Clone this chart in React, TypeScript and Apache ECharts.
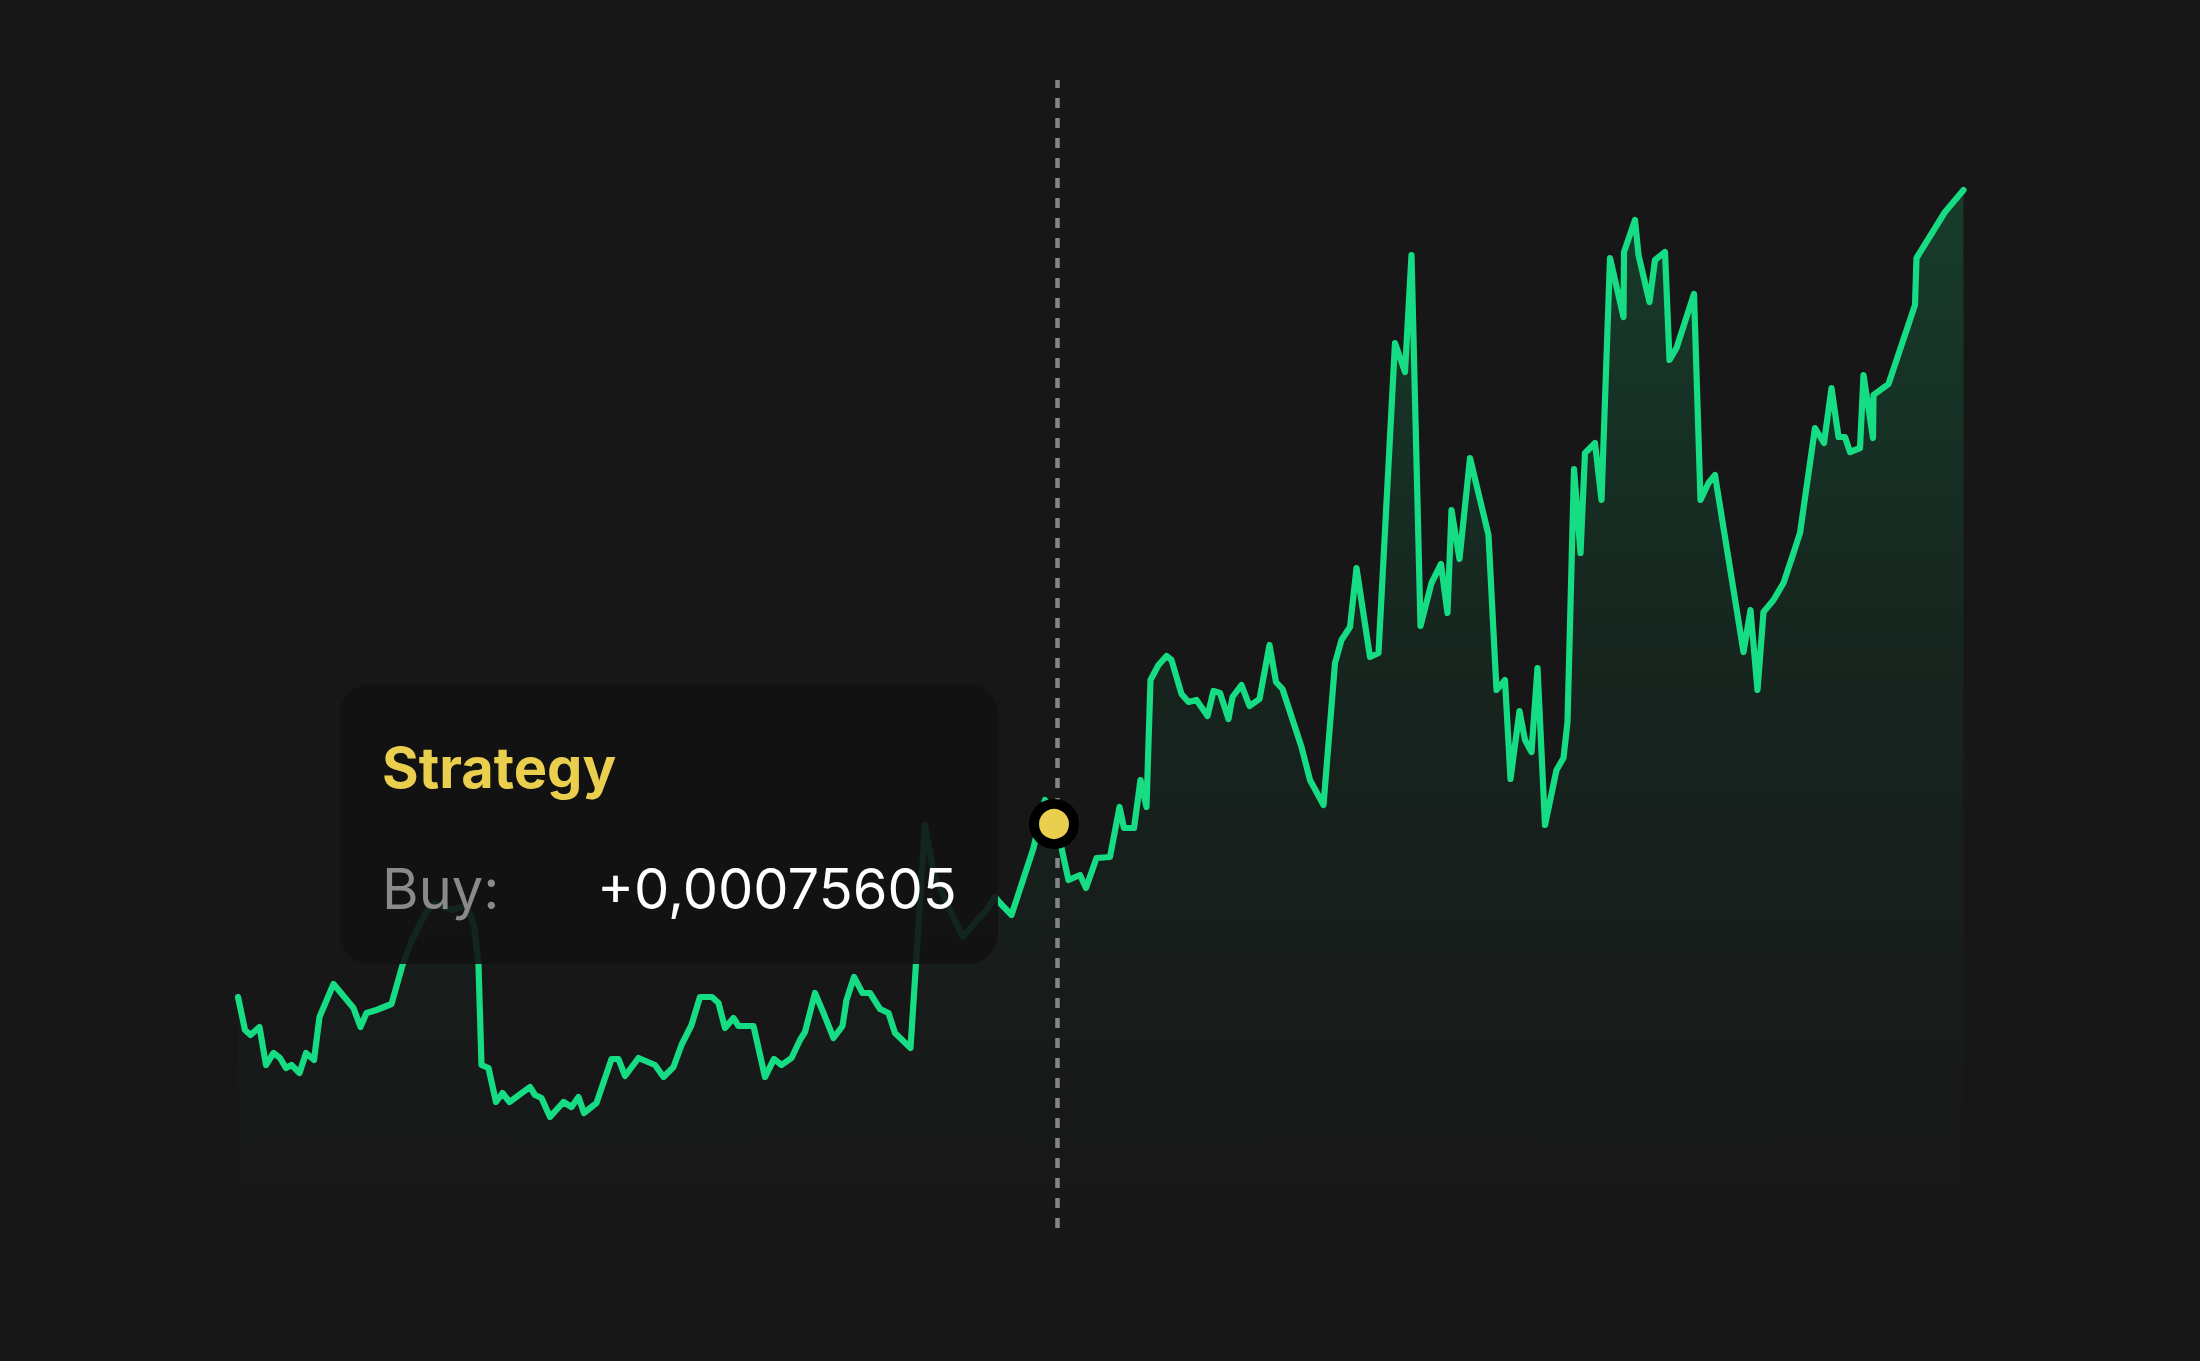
import React, { useEffect, useRef } from "react";
import * as echarts from "echarts";

// time steps (x) and cumulative profit values (y)
const timeSteps = [
  0, 1.4, 2.5, 4.3, 5.6, 7.1, 8.4, 9.6, 10.7, 12.3, 13.6, 15.2, 16.3, 19.1, 23.1, 24.5, 25.7, 27.7, 30.7, 32.9,
  34.8, 37.6, 39.2, 42.8, 45.6, 47.2, 48.1, 48.7, 50.1, 51.6, 52.9, 54.3, 58.4, 59.4, 60.7, 62.4, 65.1, 66.7, 68.1, 69.2,
  71.7, 74.7, 76.1, 77.4, 80.1, 83.4, 85.1, 87.1, 88.7, 90.7, 92.4, 94.8, 96.1, 97.4, 99.1, 100.1, 103.1, 105.4, 107.2, 108.7,
  110.7, 112.4, 113.4, 115.4, 117.1, 119.1, 120.9, 121.7, 123.2, 124.9, 126.4, 128.4, 130.1, 131.4, 134.5, 137.4, 139.1, 142.4, 145.0, 147.0,
  149.7, 151.4, 152.4, 154.7, 159.1, 159.6, 161.4, 164.7, 166.1, 168.4, 169.6, 171.7, 174.4, 176.3, 177.2, 179.2, 180.5, 181.7, 182.5, 184.1,
  185.7, 186.7, 188.7, 190.1, 191.7, 193.9, 195.1, 196.4, 198.1, 198.9, 200.7, 202.3, 204.3, 206.3, 207.6, 208.9, 212.7, 214.4, 217.1, 219.4,
  220.7, 222.4, 223.7, 226.4, 228.1, 231.4, 233.4, 234.7, 236.5, 238.7, 240.6, 241.9, 242.7, 244.3, 246.4, 250.1, 251.7, 253.4, 254.5, 256.3,
  257.4, 258.7, 259.9, 261.4, 263.7, 265.1, 265.9, 267.2, 268.5, 269.4, 271.4, 272.7, 274.4, 277.1, 277.2, 279.4, 280.1, 282.3, 283.4, 285.4,
  286.3, 287.7, 291.2, 292.5, 294.1, 295.4, 301.1, 302.5, 303.9, 305.1, 307.1, 309.1, 311.1, 312.4, 315.4, 317.2, 318.7, 320.1, 321.4, 322.4,
  324.4, 325.1, 327.0, 327.1, 330.1, 335.4, 335.7, 341.4, 345.1,
];

const profit = [
  23.1, 19.8, 19.3, 20.1, 16.3, 17.5, 17.0, 16.0, 16.3, 15.5, 17.5, 16.8, 21.1, 24.4, 22.0, 20.1, 21.5, 21.8, 22.4, 26.3,
  28.8, 31.6, 32.4, 31.8, 32.2, 30.3, 26.3, 16.3, 16.0, 12.6, 13.5, 12.6, 14.1, 13.3, 13.0, 11.1, 12.6, 12.1, 13.1, 11.5,
  12.5, 16.9, 16.9, 15.2, 17.0, 16.3, 15.1, 16.1, 18.3, 20.3, 23.1, 23.1, 22.5, 20.0, 21.0, 20.2, 20.2, 15.1, 16.9, 16.3,
  17.0, 18.8, 19.6, 23.5, 21.5, 19.0, 20.2, 22.8, 25.1, 23.5, 23.5, 21.9, 21.5, 19.5, 18.0, 40.3, 35.5, 31.8, 29.1, 30.3,
  31.8, 33.1, 32.5, 31.3, 38.0, 39.1, 42.8, 38.0, 34.8, 35.3, 34.0, 37.0, 37.1, 42.1, 40.0, 40.0, 44.8, 42.1, 54.8, 56.3,
  57.2, 56.8, 53.4, 52.6, 52.8, 51.2, 53.7, 53.5, 50.9, 53.1, 54.3, 52.2, 52.9, 58.3, 54.6, 53.9, 48.1, 44.8, 42.3, 56.5,
  58.8, 60.1, 66.0, 57.1, 57.5, 88.5, 85.6, 97.3, 60.2, 64.5, 66.4, 61.5, 71.8, 66.9, 77.0, 69.3, 53.8, 54.8, 44.9, 51.7,
  48.8, 47.6, 56.0, 40.3, 45.8, 47.0, 50.6, 75.9, 67.5, 77.5, 78.5, 72.8, 97.0, 91.1, 97.6, 100.8, 97.3, 92.6, 96.8, 97.6,
  86.8, 88.0, 93.4, 72.8, 74.5, 75.3, 57.6, 61.8, 53.8, 61.6, 62.8, 64.5, 67.5, 69.5, 80.0, 78.5, 84.0, 79.1, 79.1, 77.6,
  78.0, 85.3, 79.0, 83.3, 84.4, 92.3, 97.0, 101.6, 103.8,
];

const hoverTime = 163.8;
const hoverPoint = [163.2, 40.4];

const tooltipTitle = "Strategy";
const tooltipLabel = "Buy:";
const tooltipValue = "+0,00075605";

const BG = "#171717";
const LINE = "#16DC84";
const YELLOW = "#EACF4E";

export default function App() {
  const ref = useRef<HTMLDivElement>(null);

  useEffect(() => {
    document.body.style.margin = "0";
    document.body.style.background = BG;
    const chart = echarts.init(ref.current as HTMLDivElement, null, { renderer: "svg" });
    const seriesData = timeSteps.map((t, i) => [t, profit[i]]);
    chart.setOption({
      animation: false,
      backgroundColor: BG,
      grid: { left: 238, right: 237, top: 80, bottom: 133 },
      xAxis: { type: "value", min: 0, max: 345, show: false },
      yAxis: { type: "value", min: 0, max: 114.8, show: false },
      series: [
        {
          type: "line",
          data: seriesData,
          symbol: "none",
          showSymbol: false,
          z: 2,
          lineStyle: { color: LINE, width: 6.2, join: "round", cap: "round" },
          areaStyle: {
            color: new echarts.graphic.LinearGradient(0, 0, 0, 1, [
              { offset: 0, color: "rgba(20,220,130,0.27)" },
              { offset: 0.45, color: "rgba(20,220,130,0.10)" },
              { offset: 0.8, color: "rgba(20,220,130,0.03)" },
              { offset: 1, color: "rgba(20,220,130,0)" },
            ]),
          },
          markLine: {
            silent: true,
            z: 3,
            symbol: ["none", "none"],
            label: { show: false },
            lineStyle: { type: [10, 10], color: "#858585", width: 4.5 },
            data: [{ xAxis: hoverTime }],
          },
        },
        {
          type: "scatter",
          data: [hoverPoint],
          symbol: "circle",
          symbolSize: 40,
          z: 20,
          silent: true,
          itemStyle: { color: YELLOW, borderColor: "#000000", borderWidth: 10, opacity: 1 },
        },
      ],
      graphic: [
        {
          type: "rect",
          z: 100,
          shape: { x: 340, y: 684, width: 658, height: 280, r: 30 },
          style: { fill: "rgba(18,18,18,0.9)" },
        },
        {
          type: "text",
          z: 101,
          x: 382,
          y: 768,
          style: {
            text: tooltipTitle,
            fill: YELLOW,
            font: "700 56px Inter",
            verticalAlign: "middle",
            align: "left",
          },
        },
        {
          type: "text",
          z: 101,
          x: 382,
          y: 889,
          style: {
            text: tooltipLabel,
            fill: "#8a8a8a",
            font: "400 56px Inter",
            verticalAlign: "middle",
            align: "left",
          },
        },
        {
          type: "text",
          z: 101,
          x: 597,
          y: 889,
          style: {
            text: tooltipValue,
            fill: "#ffffff",
            font: "400 56px Inter",
            verticalAlign: "middle",
            align: "left",
          },
        },
      ],
    });
    return () => chart.dispose();
  }, []);

  return <div ref={ref} style={{ width: 2200, height: 1361 }} />;
}
